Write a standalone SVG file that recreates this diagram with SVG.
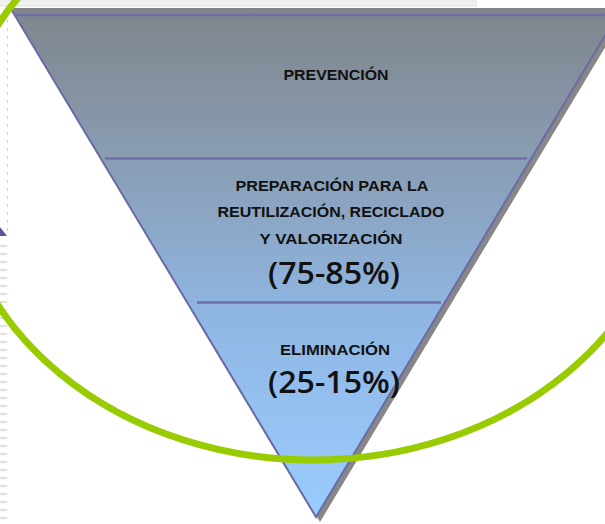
<svg xmlns="http://www.w3.org/2000/svg" width="605" height="524" viewBox="0 0 605 524">
  <defs>
    <linearGradient id="fillGrad" x1="0" y1="8" x2="0" y2="518" gradientUnits="userSpaceOnUse">
      <stop offset="0" stop-color="#7f858b"/>
      <stop offset="0.3" stop-color="#899db4"/>
      <stop offset="0.6" stop-color="#8fb6e2"/>
      <stop offset="1" stop-color="#9accff"/>
    </linearGradient>
    <style>
      .edge { fill: none; stroke: #6a6aa6; stroke-width: 2; }
      .div { stroke: #6f6fa8; stroke-width: 2.5; }
      .lbl { font-family: "Liberation Sans", Arial, sans-serif; font-weight: bold; font-size: 15px; fill: #111; text-anchor: middle; }
      .pct { font-family: "Open Sans", "Liberation Sans", sans-serif; font-weight: 600; font-size: 30px; fill: #111; text-anchor: middle; }
    </style>
  </defs>

  <!-- background artifacts -->
  <rect x="0" y="0" width="477" height="7" fill="#ededed"/>
  <line x1="0" y1="3" x2="477" y2="3" stroke="#f8f8f8" stroke-width="1"/>
  <line x1="7.5" y1="20" x2="7.5" y2="236" stroke="#d4d4d4" stroke-width="1" stroke-dasharray="3 5"/>
  <polygon points="0,227 7,236 0,236" fill="#5a5a96"/>
  <g id="stripes" fill="#e2e2e2">
    <rect x="0" y="245" width="7" height="2"/>
    <rect x="0" y="253" width="7" height="2"/>
    <rect x="0" y="261" width="7" height="2"/>
    <rect x="0" y="269" width="7" height="2"/>
    <rect x="0" y="277" width="7" height="2"/>
    <rect x="0" y="285" width="7" height="2"/>
    <rect x="0" y="293" width="7" height="2"/>
    <rect x="0" y="301" width="7" height="2"/>
    <rect x="0" y="309" width="7" height="2"/>
    <rect x="0" y="317" width="7" height="2"/>
    <rect x="0" y="325" width="7" height="2"/>
    <rect x="0" y="333" width="7" height="2"/>
    <rect x="0" y="341" width="7" height="2"/>
    <rect x="0" y="349" width="7" height="2"/>
    <rect x="0" y="357" width="7" height="2"/>
    <rect x="0" y="365" width="7" height="2"/>
    <rect x="0" y="373" width="7" height="2"/>
    <rect x="0" y="381" width="7" height="2"/>
    <rect x="0" y="389" width="7" height="2"/>
    <rect x="0" y="397" width="7" height="2"/>
    <rect x="0" y="405" width="7" height="2"/>
    <rect x="0" y="413" width="7" height="2"/>
    <rect x="0" y="421" width="7" height="2"/>
    <rect x="0" y="429" width="7" height="2"/>
    <rect x="0" y="437" width="7" height="2"/>
    <rect x="0" y="445" width="7" height="2"/>
    <rect x="0" y="453" width="7" height="2"/>
    <rect x="0" y="461" width="7" height="2"/>
    <rect x="0" y="469" width="7" height="2"/>
    <rect x="0" y="477" width="7" height="2"/>
    <rect x="0" y="485" width="7" height="2"/>
    <rect x="0" y="493" width="7" height="2"/>
    <rect x="0" y="501" width="7" height="2"/>
    <rect x="0" y="509" width="7" height="2"/>
    <rect x="0" y="517" width="7" height="2"/>
  </g>

  <!-- pyramid -->
  <g id="pyramid">
    <polygon points="14,11 627,11 320,522" fill="#878787"/>
    <polygon points="10,8 622,8 316,518" fill="url(#fillGrad)"/>
    <polyline class="edge" points="11,9 316,517 621,9"/>
    <line x1="14" y1="15" x2="605" y2="15" class="div"/>
  </g>

  <g id="connectors">
    <line class="div" x1="105" y1="158.5" x2="527" y2="158.5"/>
    <line class="div" x1="197" y1="302.5" x2="441" y2="302.5"/>
  </g>

  <g id="node-prevencion">
    <text class="lbl" x="336" y="80" textLength="105" lengthAdjust="spacingAndGlyphs">PREVENCIÓN</text>
  </g>

  <g id="node-preparacion">
    <text class="lbl" x="332" y="191" textLength="193" lengthAdjust="spacingAndGlyphs">PREPARACIÓN PARA LA</text>
    <text class="lbl" x="331" y="217" textLength="227" lengthAdjust="spacingAndGlyphs">REUTILIZACIÓN, RECICLADO</text>
    <text class="lbl" x="331" y="244" textLength="143" lengthAdjust="spacingAndGlyphs">Y VALORIZACIÓN</text>
    <text class="pct" x="334" y="284" textLength="132" lengthAdjust="spacingAndGlyphs">(75-85%)</text>
  </g>

  <g id="node-eliminacion">
    <text class="lbl" x="335" y="355" textLength="110" lengthAdjust="spacingAndGlyphs">ELIMINACIÓN</text>
    <text class="pct" x="334" y="393" textLength="132" lengthAdjust="spacingAndGlyphs">(25-15%)</text>
  </g>

  <!-- green ellipse -->
  <ellipse id="ring" cx="313" cy="165" rx="358" ry="295" fill="none" stroke="#99cc00" stroke-width="7"/>
</svg>
